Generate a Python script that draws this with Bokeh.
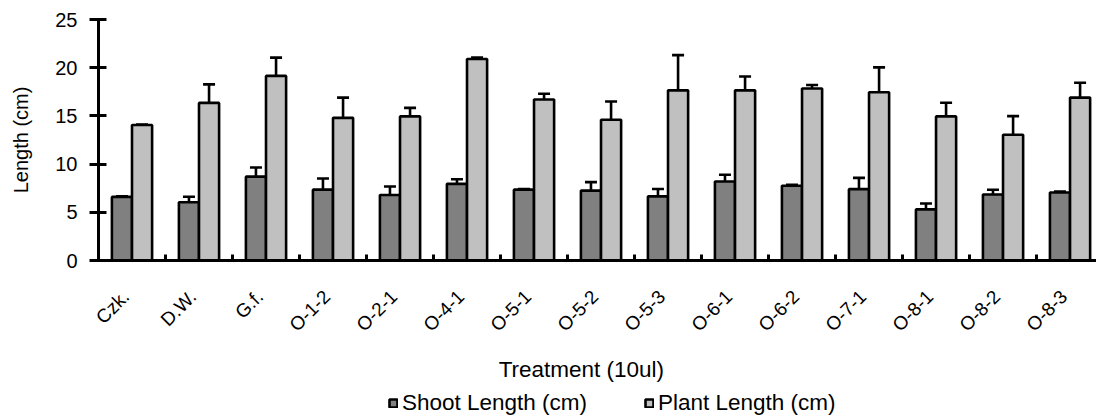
import numpy as np
import pandas as pd
from bokeh.plotting import figure
from bokeh.layouts import column
from bokeh.models import (ColumnDataSource, Range1d, FixedTicker, Whisker, TeeHead,
                          Legend, LegendItem, Label)
from bokeh.embed import file_html
from bokeh.resources import INLINE

categories = ["Czk.", "D.W.", "G.f.", "O-1-2", "O-2-1", "O-4-1", "O-5-1", "O-5-2",
              "O-5-3", "O-6-1", "O-6-2", "O-7-1", "O-8-1", "O-8-2", "O-8-3"]
shoot_length = [6.6, 6.05, 8.7, 7.35, 6.8, 7.95, 7.35, 7.25, 6.65, 8.2, 7.75, 7.4, 5.3, 6.85, 7.05]
shoot_err = [0.05, 0.57, 0.95, 1.15, 0.87, 0.48, 0.05, 0.88, 0.76, 0.69, 0.1, 1.17, 0.61, 0.49, 0.1]
plant_length = [14.05, 16.35, 19.15, 14.8, 14.95, 20.9, 16.7, 14.6, 17.65, 17.65, 17.85, 17.45, 14.95, 13.05, 16.9]
plant_err = [0.05, 1.92, 1.9, 2.1, 0.88, 0.15, 0.59, 1.9, 3.65, 1.44, 0.35, 2.58, 1.42, 1.93, 1.54]
series_names = ["Shoot Length (cm)", "Plant Length (cm)"]
x_title = "Treatment  (10ul)"
y_title = "Length (cm)"
y_ticks = [0, 5, 10, 15, 20, 25]

FONT = "Liberation Sans"
DARK = "#808080"
LIGHT = "#C0C0C0"
OFF = 0.15
BAR_W = 0.3
LABEL_SHIFT = 0.09

idx = np.arange(len(categories))
df = pd.DataFrame({
    "cat": categories,
    "xs": idx - OFF,
    "xp": idx + OFF,
    "shoot": shoot_length,
    "shoot_lo": np.array(shoot_length) - np.array(shoot_err),
    "shoot_hi": np.array(shoot_length) + np.array(shoot_err),
    "plant": plant_length,
    "plant_lo": np.array(plant_length) - np.array(plant_err),
    "plant_hi": np.array(plant_length) + np.array(plant_err),
})
src = ColumnDataSource(df)

p = figure(width=1096, height=352, output_backend="svg", toolbar_location=None,
           x_range=Range1d(-0.5, 14.395), y_range=Range1d(0, 25),
           min_border_left=98, min_border_right=0, min_border_top=19, min_border_bottom=92)
p.outline_line_color = None
p.grid.visible = False
p.background_fill_color = "white"
p.border_fill_color = "white"

bar_style = dict(width=BAR_W, line_color="black", line_width=2.6)
p.vbar(x="xs", top="shoot", source=src, fill_color=DARK, **bar_style)
p.vbar(x="xp", top="plant", source=src, fill_color=LIGHT, **bar_style)

for base, lo, hi in (("xs", "shoot_lo", "shoot_hi"), ("xp", "plant_lo", "plant_hi")):
    w = Whisker(source=src, base=base, lower=lo, upper=hi, dimension="height",
                line_color="black", line_width=2.6,
                upper_head=TeeHead(size=12, line_width=2.6, line_color="black"),
                lower_head=TeeHead(size=12, line_width=2.6, line_color="black"))
    p.add_layout(w)

# x axis: labels at category centres (slightly shifted for rotated text), ticks between categories
label_pos = [round(float(i) - LABEL_SHIFT, 2) for i in idx]
xa = p.xaxis[0]
xa.ticker = FixedTicker(ticks=label_pos, minor_ticks=[float(i) + 0.5 for i in idx])
xa.major_label_overrides = {t: c for t, c in zip(label_pos, categories)}
xa.major_label_orientation = np.pi / 4
xa.major_tick_line_color = None
xa.major_tick_in = 0
xa.major_tick_out = 0
xa.minor_tick_in = 6
xa.minor_tick_out = 0
xa.minor_tick_line_color = "black"
xa.minor_tick_line_width = 3
xa.axis_line_width = 3
xa.axis_line_color = "black"
xa.major_label_text_font = FONT
xa.major_label_text_font_size = "19px"
xa.major_label_text_color = "black"
xa.major_label_standoff = 33

# y axis
ya = p.yaxis[0]
ya.ticker = FixedTicker(ticks=y_ticks)
ya.minor_tick_line_color = None
ya.major_tick_in = 8
ya.major_tick_out = 9
ya.major_tick_line_width = 3
ya.major_tick_line_color = "black"
ya.axis_line_width = 3
ya.axis_line_color = "black"
ya.major_label_text_font = FONT
ya.major_label_text_font_size = "20px"
ya.major_label_text_color = "black"
ya.major_label_standoff = 12
ya.axis_label = y_title
ya.axis_label_text_font = FONT
ya.axis_label_text_font_size = "20px"
ya.axis_label_text_font_style = "normal"
ya.axis_label_text_color = "black"
ya.axis_label_standoff = 20

# strip below the chart: x-axis title and legend
# (legend renderers share the data but are hidden; only their legend swatches show)
p2 = figure(width=1096, height=64, output_backend="svg", toolbar_location=None,
            x_range=Range1d(-0.5, 14.395), y_range=Range1d(0, 25), min_border=0,
            x_axis_location=None, y_axis_location=None)
p2.grid.visible = False
p2.outline_line_color = None
p2.background_fill_color = "white"
p2.border_fill_color = "white"
lr1 = p2.vbar(x="xs", top="shoot", source=src, fill_color=DARK, visible=False, **bar_style)
lr2 = p2.vbar(x="xp", top="plant", source=src, fill_color=LIGHT, visible=False, **bar_style)

p2.add_layout(Label(x=486, y=47, x_units="screen", y_units="screen", text=x_title,
                    text_align="center", text_baseline="alphabetic",
                    text_font=FONT, text_font_size="22.5px", text_color="black"))

legend = Legend(items=[LegendItem(label=series_names[0], renderers=[lr1]),
                       LegendItem(label=series_names[1], renderers=[lr2])],
                location=(290, 0), orientation="horizontal",
                glyph_width=10, glyph_height=10, label_standoff=4,
                label_width=200, spacing=42, padding=0, margin=0,
                border_line_color=None, background_fill_alpha=0,
                inactive_fill_alpha=0, click_policy="none",
                label_text_font=FONT, label_text_font_size="22.5px", label_text_color="black")
p2.add_layout(legend, "center")

layout = column(p, p2, spacing=0)
open("out.html", "w").write(file_html(layout, INLINE))
